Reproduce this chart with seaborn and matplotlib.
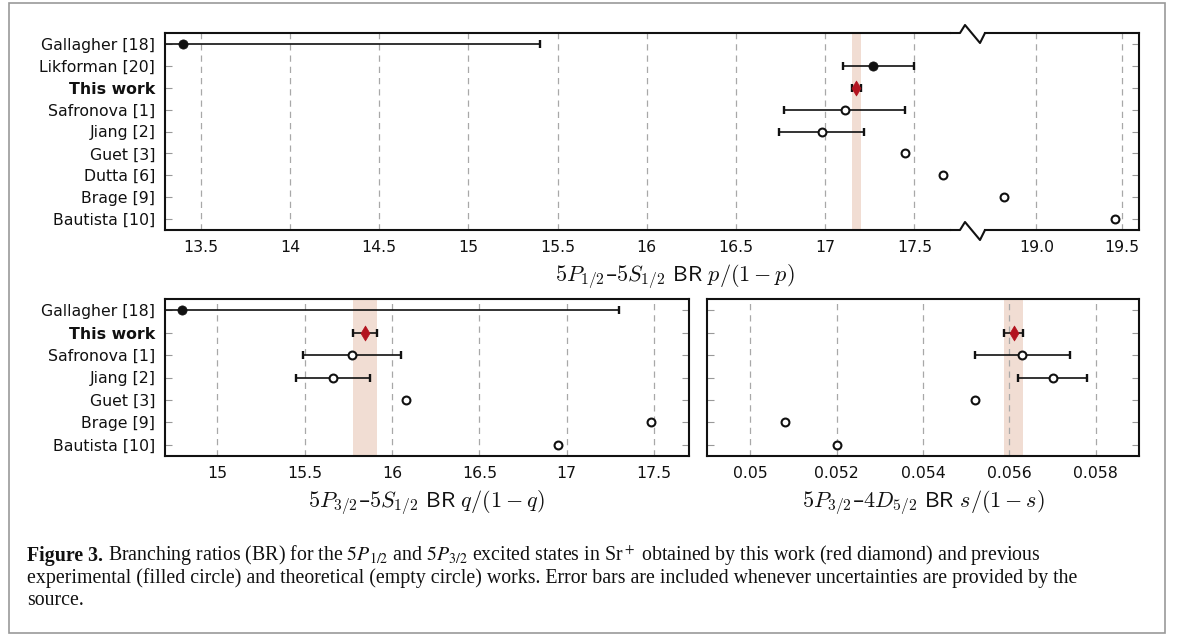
import numpy as np
import pandas as pd
import matplotlib
matplotlib.use('Agg')
import matplotlib.pyplot as plt
import seaborn as sns
from matplotlib.lines import Line2D
from matplotlib.patches import Rectangle

nan = np.nan

# top panel: 5P1/2 - 5S1/2, p/(1-p), rows from top to bottom
labels_p = ['Gallagher [18]', 'Likforman [20]', 'This work', 'Safronova [1]', 'Jiang [2]',
            'Guet [3]', 'Dutta [6]', 'Brage [9]', 'Bautista [10]']
kind_p = ['exp', 'exp', 'this', 'theo', 'theo', 'theo', 'theo', 'theo', 'theo']
value_p = [13.40, 17.27, 17.175, 17.11, 16.98, 17.45, 17.66, 18.81, 19.46]
low_p = [11.40, 17.10, 17.148, 16.77, 16.74, nan, nan, nan, nan]
high_p = [15.40, 17.50, 17.202, 17.45, 17.22, nan, nan, nan, nan]

# bottom panels: 5P3/2 - 5S1/2 (q) and 5P3/2 - 4D5/2 (s)
labels_q = ['Gallagher [18]', 'This work', 'Safronova [1]', 'Jiang [2]',
            'Guet [3]', 'Brage [9]', 'Bautista [10]']
kind_q = ['exp', 'this', 'theo', 'theo', 'theo', 'theo', 'theo']
value_q = [14.80, 15.845, 15.77, 15.66, 16.08, 17.48, 16.95]
low_q = [12.30, 15.775, 15.49, 15.45, nan, nan, nan]
high_q = [17.30, 15.915, 16.05, 15.875, nan, nan, nan]

value_s = [nan, 0.05610, 0.05630, 0.05700, 0.05520, 0.05080, 0.05200]
low_s = [nan, 0.05588, 0.05520, 0.05621, nan, nan, nan]
high_s = [nan, 0.05632, 0.05740, 0.05780, nan, nan, nan]

ticks_p_left = [13.5, 14, 14.5, 15, 15.5, 16, 16.5, 17, 17.5]
ticklabels_p_left = ['13.5', '14', '14.5', '15', '15.5', '16', '16.5', '17', '17.5']
ticks_p_right = [19.0, 19.5]
ticklabels_p_right = ['19.0', '19.5']
ticks_q = [15, 15.5, 16, 16.5, 17, 17.5]
ticklabels_q = ['15', '15.5', '16', '16.5', '17', '17.5']
ticks_s = [0.05, 0.052, 0.054, 0.056, 0.058]
ticklabels_s = ['0.05', '0.052', '0.054', '0.056', '0.058']

BAND = '#f1ddd3'
RED = '#b3131f'
GRID = '#a8a8a8'

sns.set_theme(style='white')
plt.rcParams['font.family'] = ['DejaVu Sans']
plt.rcParams['mathtext.fontset'] = 'cm'

W, H = 1182, 635
fig = plt.figure(figsize=(W / 100, H / 100), dpi=100)


def px_rect(x0, y0, x1, y1):
    return [x0 / W, 1 - y1 / H, (x1 - x0) / W, (y1 - y0) / H]


def make_df(labels, kinds, values, lows, highs):
    return pd.DataFrame({'label': labels, 'kind': kinds, 'value': values,
                         'low': lows, 'high': highs, 'pos': np.arange(len(labels))})


def draw_panel(ax, df, xlim, ticks, ticklabels, left=True, right=True, labels=True):
    band = df[df['kind'] == 'this'].iloc[0]
    ax.axvspan(band['low'], band['high'], color=BAND, lw=0, zorder=0)
    err = df.dropna(subset=['low'])
    ax.errorbar(err['value'], err['pos'],
                xerr=[err['value'] - err['low'], err['high'] - err['value']],
                fmt='none', ecolor='#111111', elinewidth=1.2, capsize=3.2,
                capthick=1.7, zorder=3)
    sns.scatterplot(data=df[df['kind'] == 'exp'], x='value', y='pos', marker='o',
                    color='#111111', edgecolor='#111111', s=44, linewidth=0.5,
                    ax=ax, zorder=4, legend=False)
    sns.scatterplot(data=df[df['kind'] == 'theo'], x='value', y='pos', marker='o',
                    color='white', edgecolor='#111111', s=32, linewidth=1.5,
                    ax=ax, zorder=4, legend=False)
    sns.scatterplot(data=df[df['kind'] == 'this'], x='value', y='pos', marker='d',
                    color=RED, edgecolor=RED, s=58, linewidth=0.5,
                    ax=ax, zorder=5, legend=False)
    ax.set_xlim(*xlim)
    ax.set_ylim(len(df) - 0.5, -0.5)
    ax.set_xticks(ticks)
    ax.set_xticklabels(ticklabels)
    ax.set_yticks(df['pos'])
    if labels:
        ax.set_yticklabels(df['label'])
        for t in ax.get_yticklabels():
            if t.get_text() == 'This work':
                t.set_fontweight('bold')
    else:
        ax.set_yticklabels([])
    ax.set_xlabel('')
    ax.set_ylabel('')
    ax.grid(axis='x', color=GRID, ls=(0, (5, 4)), lw=0.9)
    ax.grid(axis='y', visible=False)
    ax.tick_params(axis='x', length=0, pad=7, labelsize=11.3, colors='#111111')
    ax.tick_params(axis='y', direction='in', length=5, width=0.8, color='#999999',
                   left=left, right=right, labelleft=labels, pad=7,
                   labelsize=11.3, labelcolor='#111111')
    for sp in ax.spines.values():
        sp.set_linewidth(1.5)
        sp.set_color('#111111')


df_p = make_df(labels_p, kind_p, value_p, low_p, high_p)
df_q = make_df(labels_q, kind_q, value_q, low_q, high_q)
df_s = make_df(labels_q, kind_q, value_s, low_s, high_s)

ax_pl = fig.add_axes(px_rect(165, 33, 950, 230))
ax_pr = fig.add_axes(px_rect(985, 33, 1139, 230))
ax_q = fig.add_axes(px_rect(165, 299, 689, 456))
ax_s = fig.add_axes(px_rect(707, 299, 1139, 456))

draw_panel(ax_pl, df_p, (13.3, 17.7), ticks_p_left, ticklabels_p_left, left=True, right=False)
draw_panel(ax_pr, df_p, (18.7, 19.6), ticks_p_right, ticklabels_p_right, left=False, right=True, labels=False)
ax_pl.spines['right'].set_visible(False)
ax_pr.spines['left'].set_visible(False)
draw_panel(ax_q, df_q, (14.7, 17.7), ticks_q, ticklabels_q)
draw_panel(ax_s, df_s, (0.049, 0.059), ticks_s, ticklabels_s, labels=False)

# axis break zigzags
for y in (33, 230):
    xs = [950, 960, 965, 980, 985]
    ys = [y, y, y - 8, y + 10, y]
    fig.add_artist(Line2D([x / W for x in xs], [1 - v / H for v in ys],
                          transform=fig.transFigure, color='#111111', lw=1.5))

lab_kw = dict(ha='center', va='center', fontsize=16, color='#111111', math_fontfamily='cm')
fig.text(675 / W, 1 - 277 / H, r'$5P_{1/2}$–$5S_{1/2}\ \mathsf{BR}\ p/(1-p)$', **lab_kw)
fig.text(427 / W, 1 - 503 / H, r'$5P_{3/2}$–$5S_{1/2}\ \mathsf{BR}\ q/(1-q)$', **lab_kw)
fig.text(923 / W, 1 - 503 / H, r'$5P_{3/2}$–$4D_{5/2}\ \mathsf{BR}\ s/(1-s)$', **lab_kw)

# caption
cap_kw = dict(family='Liberation Serif', fontsize=14.3, va='baseline', ha='left',
              color='#111111', math_fontfamily='stix')
t1 = fig.text(27 / W, 1 - 561 / H, 'Figure 3.', fontweight='bold', **cap_kw)
fig.canvas.draw()
x_end = t1.get_window_extent().x1
fig.text((x_end + 5) / W, 1 - 561 / H,
         r'Branching ratios (BR) for the $5P_{1/2}$ and $5P_{3/2}$ excited states in '
         r'Sr$^+$ obtained by this work (red diamond) and previous', **cap_kw)
fig.text(27 / W, 1 - 583 / H,
         'experimental (filled circle) and theoretical (empty circle) works. Error bars are '
         'included whenever uncertainties are provided by the', **cap_kw)
fig.text(27 / W, 1 - 605 / H, 'source.', **cap_kw)

fig.add_artist(Rectangle((9 / W, 1 - 633 / H), 1156 / W, 630 / H, transform=fig.transFigure,
                         fill=False, edgecolor='#999999', lw=1.2))

fig.savefig('out.png', dpi=100)
